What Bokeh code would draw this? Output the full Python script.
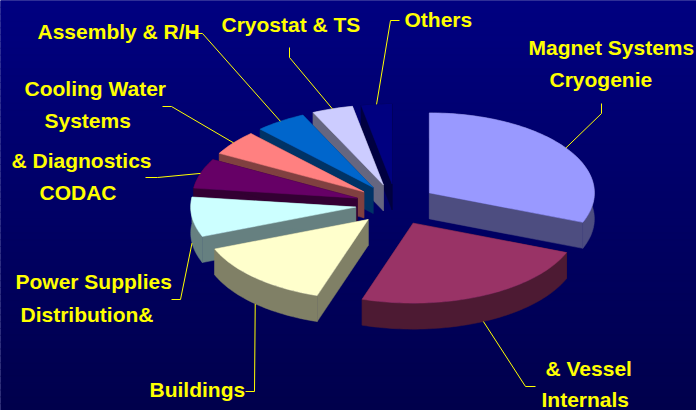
import math
import numpy as np
from bokeh.plotting import figure
from bokeh.models import Range1d
from bokeh.embed import file_html
from bokeh.resources import INLINE
from bokeh.core.properties import value

# ---- data, clockwise from 12 o'clock ----
categories = ["Magnet Systems Cryogenie", "Internals & Vessel", "Buildings",
              "Power Supplies Distribution&", "CODAC & Diagnostics",
              "Cooling Water Systems", "Assembly & R/H", "Cryostat & TS", "Others"]
shares = [31, 24, 14, 8, 6, 5, 5, 4, 3]

# ---- styles ----
top_colors = ["#9999ff", "#993366", "#ffffcc", "#ccffff", "#660066",
              "#ff8080", "#0066cc", "#ccccff", "#000080"]
wall_colors = ["#4d4d80", "#4d1a33", "#808066", "#668080", "#330033",
               "#804040", "#003366", "#666680", "#000040"]
paint_order = [8, 7, 6, 5, 4, 3, 2, 0, 1]

# ---- label layout (text, left x, middle-of-capitals y) ----
label_lines = [
    ("Magnet Systems", 528, 46.5), ("Cryogenie", 549, 78.5),
    ("& Vessel", 545, 367.5), ("Internals", 541, 399),
    ("Buildings", 149, 388.5),
    ("Power Supplies", 15, 280.5), ("Distribution&", 20, 313.5),
    ("& Diagnostics", 11, 159.5), ("CODAC", 39, 191.5),
    ("Cooling Water", 24, 87.5), ("Systems", 44, 119.5),
    ("Assembly & R/H", 37, 30.5),
    ("Cryostat & TS", 221, 23.5),
    ("Others", 404, 18.5),
]
# leader bends per slice, running away from the rim
leader_bends = [
    [(601, 113), (601, 103)],
    [(525, 386), (535, 386)],
    [(254, 391), (245, 391)],
    [(180, 299), (171, 299)],
    [(157, 177), (145, 177)],
    [(171, 106), (162, 106)],
    [(202, 33), (190, 33)],
    [(289, 57), (289, 47)],
    [(390, 20), (399, 20)],
]

# ---- pie geometry ----
CX, CY = 395.4, 204.0
RX, RY = 165.0, 80.0
EX, EY = 40.5, 20.6
DEPTH = 26.0

W, H = 696, 410
p = figure(width=W, height=H, output_backend="svg", toolbar_location=None,
           x_range=Range1d(0, W), y_range=Range1d(H, 0),
           min_border=0, outline_line_color=None)
p.axis.visible = False
p.grid.visible = False
p.background_fill_color = "#000080"
p.border_fill_color = "#000080"

# background gradient, dark towards the bottom
TOP_BLUE, BOTTOM_BLUE = 128, 76
rows = 60
edges = np.linspace(0, H, rows + 1)
blues = np.linspace(TOP_BLUE, BOTTOM_BLUE, rows).round().astype(int)
p.quad(left=0, right=W, top=edges[:-1], bottom=edges[1:],
       fill_color=[f"#0000{b:02x}" for b in blues],
       line_color=[f"#0000{b:02x}" for b in blues], line_width=1)

# slices
fracs = np.cumsum([0] + shares) / sum(shares) * 2 * math.pi
outlines, apexes, mids = [], [], []
for i in range(len(shares)):
    a0, a1 = fracs[i], fracs[i + 1]
    m = (a0 + a1) / 2
    ax, ay = CX + EX * math.sin(m), CY - EY * math.cos(m)
    t = np.linspace(a0, a1, max(6, int((a1 - a0) * 40)))
    rim_x = list(ax + RX * np.sin(t))
    rim_y = list(ay - RY * np.cos(t))
    outlines.append((rim_x, rim_y))
    apexes.append((ax, ay))
    mids.append(m)

px, py, pc = [], [], []
for i in paint_order:
    rim_x, rim_y = outlines[i]
    ax, ay = apexes[i]
    # the two cut faces
    for ex, ey in ((rim_x[0], rim_y[0]), (rim_x[-1], rim_y[-1])):
        px.append([ax, ex, ex, ax])
        py.append([ay, ey, ey + DEPTH, ay + DEPTH])
        pc.append(wall_colors[i])
    # the curved outer face as one polygon
    px.append(rim_x + rim_x[::-1])
    py.append(rim_y + [v + DEPTH for v in rim_y[::-1]])
    pc.append(wall_colors[i])
    # top face
    px.append([ax] + rim_x)
    py.append([ay] + rim_y)
    pc.append(top_colors[i])
p.patches(px, py, fill_color=pc, line_color=pc, line_width=0.5)

# leaders start on the rim at each slice's mid angle
lx, ly = [], []
for i, m in enumerate(mids):
    ax, ay = apexes[i]
    sx = ax + RX * math.sin(m)
    sy = ay - RY * math.cos(m) + (DEPTH if math.cos(m) < 0 else 0)
    lx.append([sx] + [b[0] for b in leader_bends[i]])
    ly.append([sy] + [b[1] for b in leader_bends[i]])
p.multi_line(lx, ly, line_color="#ffff00", line_width=1)

p.text(x=[l[1] for l in label_lines], y=[l[2] for l in label_lines],
       text=[l[0] for l in label_lines], text_color="#ffff00",
       text_font=value("Liberation Sans"), text_font_style="bold",
       text_font_size="21px", text_baseline="middle", text_align="left")

open("out.html", "w").write(file_html(p, INLINE))
